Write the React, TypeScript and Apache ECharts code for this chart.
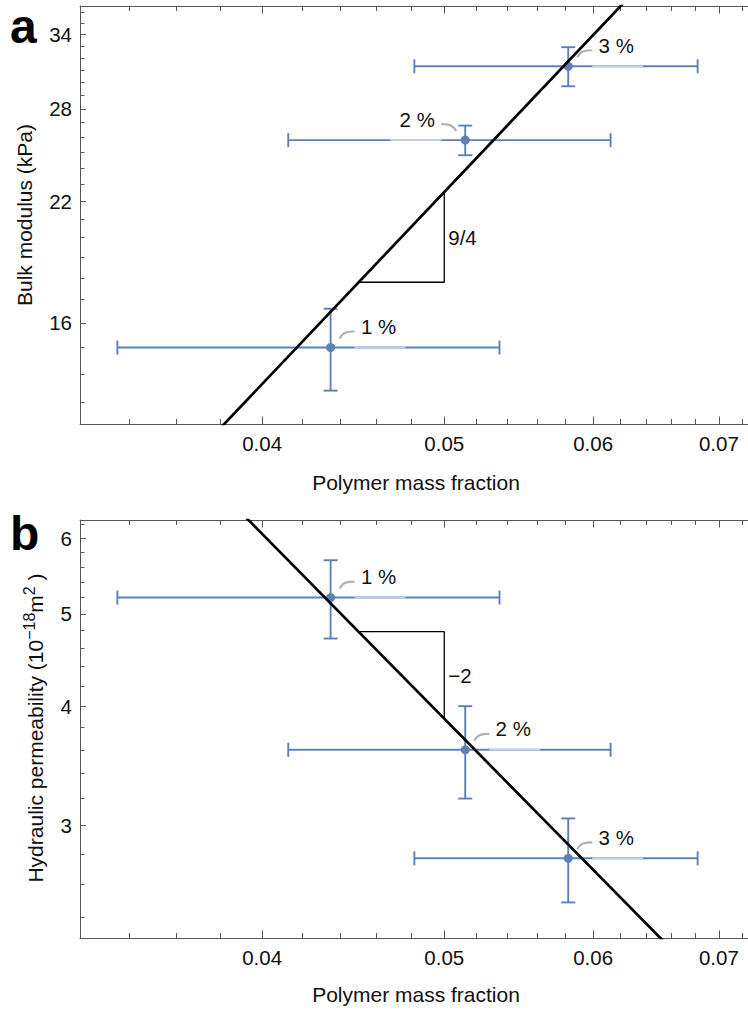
import React, { useEffect, useRef } from 'react';
import * as echarts from 'echarts';

// ---------- data ----------
const massFraction = [0.0435, 0.0513, 0.0582];
const massFractionErr = [0.01, 0.01, 0.01];
const bulkModulus = [15.0, 25.8, 31.3];
const bulkModulusErr = [1.6, 1.0, 1.6];
const permeability = [5.2, 3.6, 2.77];
const permeabilityErr = [0.49, 0.4, 0.28];
const pointLabels = ['1 %', '2 %', '3 %'];
const bulkLabelSide = [1, -1, 1];
const permLabelSide = [1, 1, 1];

// power-law fit lines (end points)
const fitBulkX = [0.0375, 0.0625];
const fitBulkY = [11.79, 37.22];
const fitPermX = [0.039, 0.066];
const fitPermY = [6.38, 2.227];

// slope triangles
const triBulkX = [0.045, 0.05, 0.05];
const triBulkY = [17.79, 17.79, 22.53];
const triPermX = [0.045, 0.05, 0.05];
const triPermY = [4.79, 4.79, 3.88];
const slopeLabelX = [0.05, 0.05];
const slopeLabelY = [20.02, 4.31];
const slopeLabels = ['9/4', '\u22122'];

// axes
const xRange = [0.032, 0.07254];
const bulkRange = [12.28, 36.64];
const permRange = [2.285, 6.271];
const xMajor = [0.04, 0.05, 0.06, 0.07];
const xMinor = [0.034, 0.036, 0.038, 0.042, 0.044, 0.046, 0.048, 0.052, 0.054, 0.056, 0.058, 0.062, 0.064, 0.066, 0.068, 0.072];
const bulkMajor = [16, 22, 28, 34];
const bulkMinor = [13, 14, 15, 17, 18, 19, 20, 21, 23, 24, 25, 26, 27, 29, 30, 31, 32, 33, 35, 36];
const permMajor = [3, 4, 5, 6];
const permMinor = [2.4, 2.6, 2.8, 3.2, 3.4, 3.6, 3.8, 4.2, 4.4, 4.6, 4.8, 5.2, 5.4, 5.6, 5.8, 6.2];

const xTitle = 'Polymer mass fraction';
const bulkTitle = 'Bulk modulus (kPa)';

// ---------- styles ----------
const FONT = '"Liberation Sans", Arial, Helvetica, sans-serif';
const AXIS = '#555555';
const TEXT = '#111111';
const BLUE = '#5e81b5';
const LIGHT = '#c2cee2';
const LEADER = '#b3b3b3';
const L = Math.log;

const grids = [
  { left: 80, top: 6, width: 672, height: 418 },
  { left: 80, top: 520, width: 672, height: 418 },
];

function makeXAxes(g: number) {
  const base = {
    type: 'value' as const,
    gridIndex: g,
    min: L(xRange[0]),
    max: L(xRange[1]),
    splitLine: { show: false },
  };
  const line = { show: true, onZero: false, lineStyle: { color: AXIS, width: 1 } };
  const noLine = { show: false, onZero: false };
  const major = { show: true, inside: true, length: 7.5, customValues: xMajor.map(L), lineStyle: { color: AXIS, width: 1 } };
  const minor = { show: true, inside: true, length: 5, customValues: xMinor.map(L), lineStyle: { color: AXIS, width: 1 } };
  return [
    {
      ...base, position: 'bottom', axisLine: line, axisTick: major,
      axisLabel: {
        show: true, customValues: xMajor.map(L), margin: 9, fontSize: 20.5, color: TEXT, fontFamily: FONT,
        formatter: (v: number) => Math.exp(v).toFixed(2),
      },
    },
    { ...base, position: 'bottom', axisLine: noLine, axisTick: minor, axisLabel: { show: false } },
    { ...base, position: 'top', axisLine: line, axisTick: major, axisLabel: { show: false } },
    { ...base, position: 'top', axisLine: noLine, axisTick: minor, axisLabel: { show: false } },
  ];
}

function makeYAxes(g: number, range: number[], majorV: number[], minorV: number[]) {
  const base = {
    type: 'value' as const,
    gridIndex: g,
    min: L(range[0]),
    max: L(range[1]),
    splitLine: { show: false },
    position: 'left' as const,
  };
  return [
    {
      ...base,
      axisLine: { show: true, onZero: false, lineStyle: { color: AXIS, width: 1 } },
      axisTick: { show: true, inside: true, length: 6, customValues: majorV.map(L), lineStyle: { color: AXIS, width: 1 } },
      axisLabel: {
        show: true, customValues: majorV.map(L), margin: 8, fontSize: 20.5, color: TEXT, fontFamily: FONT,
        formatter: (v: number) => String(Math.round(Math.exp(v))),
      },
    },
    {
      ...base,
      axisLine: { show: false, onZero: false },
      axisTick: { show: true, inside: true, length: 4.5, customValues: minorV.map(L), lineStyle: { color: AXIS, width: 1 } },
      axisLabel: { show: false },
    },
  ];
}

function errorSeries(g: number, vals: number[], errs: number[], sides: number[]) {
  return {
    type: 'custom',
    xAxisIndex: g * 4,
    yAxisIndex: g * 2,
    coordinateSystem: 'cartesian2d',
    clip: false,
    z: 2,
    encode: { x: 0, y: 1 },
    data: massFraction.map((f, i) => [L(f), L(vals[i]), f, vals[i], massFractionErr[i], errs[i], i]),
    renderItem: (_p: any, api: any) => {
      const f = api.value(2), v = api.value(3), fe = api.value(4), ve = api.value(5), i = api.value(6);
      const c = api.coord([L(f), L(v)]);
      const lft = api.coord([L(f - fe), L(v)]);
      const rgt = api.coord([L(f + fe), L(v)]);
      const top = api.coord([L(f), L(v + ve)]);
      const bot = api.coord([L(f), L(v - ve)]);
      const s = sides[i];
      const st = { stroke: BLUE, lineWidth: 1.9 };
      const cap = 7;
      return {
        type: 'group',
        children: [
          { type: 'line', shape: { x1: lft[0], y1: c[1], x2: rgt[0], y2: c[1] }, style: st },
          { type: 'line', shape: { x1: lft[0], y1: c[1] - cap, x2: lft[0], y2: c[1] + cap }, style: st },
          { type: 'line', shape: { x1: rgt[0], y1: c[1] - cap, x2: rgt[0], y2: c[1] + cap }, style: st },
          { type: 'line', shape: { x1: c[0] + s * 24, y1: c[1], x2: c[0] + s * 75, y2: c[1] }, style: { stroke: LIGHT, lineWidth: 2 } },
          { type: 'line', shape: { x1: c[0], y1: top[1], x2: c[0], y2: bot[1] }, style: st },
          { type: 'line', shape: { x1: c[0] - cap, y1: top[1], x2: c[0] + cap, y2: top[1] }, style: st },
          { type: 'line', shape: { x1: c[0] - cap, y1: bot[1], x2: c[0] + cap, y2: bot[1] }, style: st },
          { type: 'circle', shape: { cx: c[0], cy: c[1], r: 4.5 }, style: { fill: BLUE } },
          {
            type: 'bezierCurve',
            shape: {
              x1: c[0] + s * 9, y1: c[1] - 9,
              cpx1: c[0] + s * 12, cpy1: c[1] - 15,
              cpx2: c[0] + s * 16, cpy2: c[1] - 16,
              x2: c[0] + s * 24, y2: c[1] - 16,
            },
            style: { stroke: LEADER, lineWidth: 2.2, fill: 'none' },
          },
          {
            type: 'text',
            x: c[0] + s * 48,
            y: c[1] - 21,
            style: {
              text: pointLabels[i], fill: TEXT, font: `20.5px ${FONT}`,
              align: 'center', verticalAlign: 'middle',
            },
          },
        ],
      };
    },
  };
}

function lineSeries(g: number, xs: number[], ys: number[], width: number, z: number) {
  return {
    type: 'line',
    xAxisIndex: g * 4,
    yAxisIndex: g * 2,
    data: xs.map((x, i) => [L(x), L(ys[i])]),
    symbol: 'none',
    silent: true,
    z,
    lineStyle: { color: '#000', width },
  };
}

function slopeLabelSeries(g: number) {
  return {
    type: 'custom',
    xAxisIndex: g * 4,
    yAxisIndex: g * 2,
    coordinateSystem: 'cartesian2d',
    silent: true,
    z: 5,
    encode: { x: 0, y: 1 },
    data: [[L(slopeLabelX[g]), L(slopeLabelY[g])]],
    renderItem: (_p: any, api: any) => {
      const c = api.coord([api.value(0), api.value(1)]);
      return {
        type: 'text',
        x: c[0] + 4,
        y: c[1],
        style: { text: slopeLabels[g], fill: TEXT, font: `20.5px ${FONT}`, align: 'left', verticalAlign: 'middle' },
      };
    },
  };
}

export default function App() {
  const ref = useRef<HTMLDivElement>(null);
  useEffect(() => {
    if (!ref.current) return;
    const chart = echarts.init(ref.current, null, { renderer: 'svg' });
    chart.setOption({
      animation: false,
      backgroundColor: '#fff',
      grid: grids,
      xAxis: [...makeXAxes(0), ...makeXAxes(1)],
      yAxis: [
        ...makeYAxes(0, bulkRange, bulkMajor, bulkMinor),
        ...makeYAxes(1, permRange, permMajor, permMinor),
      ],
      series: [
        errorSeries(0, bulkModulus, bulkModulusErr, bulkLabelSide),
        lineSeries(0, triBulkX, triBulkY, 1.3, 3),
        lineSeries(0, fitBulkX, fitBulkY, 2.7, 4),
        slopeLabelSeries(0),
        errorSeries(1, permeability, permeabilityErr, permLabelSide),
        lineSeries(1, triPermX, triPermY, 1.3, 3),
        lineSeries(1, fitPermX, fitPermY, 2.7, 4),
        slopeLabelSeries(1),
      ],
      graphic: [
        { type: 'text', x: 10, y: 26, style: { text: 'a', font: `bold 48px ${FONT}`, fill: '#000', verticalAlign: 'middle' } },
        { type: 'text', x: 10, y: 533, style: { text: 'b', font: `bold 48px ${FONT}`, fill: '#000', verticalAlign: 'middle' } },
        { type: 'text', x: 416, y: 482, style: { text: xTitle, font: `21px ${FONT}`, fill: TEXT, align: 'center', verticalAlign: 'middle' } },
        { type: 'text', x: 416, y: 994, style: { text: xTitle, font: `21px ${FONT}`, fill: TEXT, align: 'center', verticalAlign: 'middle' } },
        {
          type: 'text', x: 24, y: 215, rotation: Math.PI / 2,
          style: { text: bulkTitle, font: `21px ${FONT}`, fill: TEXT, align: 'center', verticalAlign: 'middle' },
        },
        {
          type: 'text', x: 35, y: 728, rotation: Math.PI / 2,
          style: {
            text: 'Hydraulic permeability (10{sup|\u221218}m{sup|2} )',
            font: `21px ${FONT}`, fill: TEXT, align: 'center', verticalAlign: 'middle',
            rich: { sup: { fontSize: 16, fontFamily: FONT, fill: TEXT, padding: [0, 0, 12, 0] } },
          },
        },
      ],
    });
    return () => chart.dispose();
  }, []);
  return <div ref={ref} style={{ position: 'absolute', left: 0, top: 0, width: 748, height: 1011 }} />;
}
